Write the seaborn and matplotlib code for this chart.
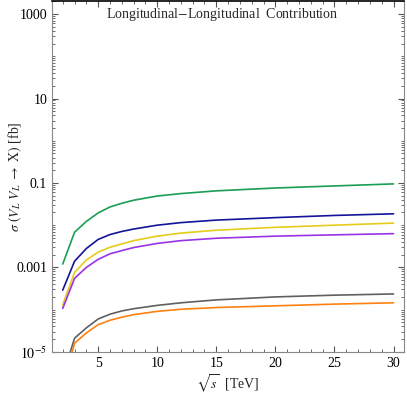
import numpy as np
import pandas as pd
import seaborn as sns
import matplotlib.pyplot as plt
from matplotlib.ticker import FixedLocator, FixedFormatter, MultipleLocator

# sqrt(s) in TeV
sqrt_s = [2, 3, 4, 5, 6, 7, 8, 10, 12, 15, 20, 25, 30]

# cross sections [fb]
sig_green = [1.2e-3, 6.8e-3, 0.0123, 0.0195, 0.027, 0.033, 0.039, 0.049, 0.056, 0.065, 0.076, 0.085, 0.095]
sig_blue = [2.9e-4, 1.4e-3, 2.8e-3, 4.6e-3, 6.0e-3, 7.1e-3, 8.1e-3, 0.010, 0.0115, 0.0132, 0.0151, 0.017, 0.0186]
sig_yellow = [1.3e-4, 7.6e-4, 1.5e-3, 2.3e-3, 3.0e-3, 3.6e-3, 4.3e-3, 5.5e-3, 6.5e-3, 7.6e-3, 8.9e-3, 0.010, 0.0112]
sig_purple = [1.07e-4, 5.5e-4, 1.0e-3, 1.55e-3, 2.1e-3, 2.5e-3, 2.95e-3, 3.7e-3, 4.3e-3, 4.9e-3, 5.5e-3, 5.9e-3, 6.3e-3]
sig_gray = [2.7e-6, 2.1e-5, 3.7e-5, 6.0e-5, 7.8e-5, 9.3e-5, 1.05e-4, 1.26e-4, 1.45e-4, 1.7e-4, 2.0e-4, 2.2e-4, 2.35e-4]
sig_orange = [1.4e-6, 1.6e-5, 2.8e-5, 4.4e-5, 5.6e-5, 6.6e-5, 7.6e-5, 9.1e-5, 1.02e-4, 1.12e-4, 1.23e-4, 1.35e-4, 1.45e-4]

series = {"green": sig_green, "blue": sig_blue, "yellow": sig_yellow,
          "purple": sig_purple, "gray": sig_gray, "orange": sig_orange}
colors = {"green": "#1a9e55", "blue": "#14149a", "yellow": "#e6cc1a",
          "purple": "#9933e6", "gray": "#606060", "orange": "#ff8010"}

df = pd.concat([pd.DataFrame({"sqrt_s": sqrt_s, "sigma": v, "proc": k}) for k, v in series.items()])

sns.set_style("ticks")
plt.rcParams['font.family'] = ['Liberation Serif', 'DejaVu Serif']
plt.rcParams['mathtext.fontset'] = 'stix'

fig = plt.figure(figsize=(4.07, 3.94), dpi=100)
ax = fig.add_axes([0.128, 0.107, 0.865, 0.8905])

sns.lineplot(data=df, x="sqrt_s", y="sigma", hue="proc", palette=colors,
             linewidth=1.2, legend=False, ax=ax)

ax.set_yscale("log")
ax.set_ylim(1e-5, 10**3.31)
ax.set_xlim(1.1, 30.9)

ax.yaxis.set_major_locator(FixedLocator([1e-5, 1e-3, 1e-1, 10, 1000]))
ax.yaxis.set_major_formatter(FixedFormatter([r"$10^{-5}$", "0.001", "0.1", "10", "1000"]))
minor = [m * 10.0**e for e in range(-5, 4) for m in range(2, 10)] + [10.0**e for e in (-4, -2, 0, 2)]
ax.yaxis.set_minor_locator(FixedLocator(minor))
ax.yaxis.set_minor_formatter(FixedFormatter([""] * len(minor)))
ax.xaxis.set_major_locator(MultipleLocator(5))
ax.xaxis.set_minor_locator(MultipleLocator(1))

ax.tick_params(which="both", direction="in", top=True, right=True, labelsize=10, colors="#555555", labelcolor="black")
ax.tick_params(which="major", length=4, width=0.8)
ax.tick_params(which="minor", length=2, width=0.6)
for side in ["left", "bottom", "right"]:
    ax.spines[side].set_color("#888888")
ax.spines["top"].set_color("black")
ax.spines["top"].set_linewidth(1.2)

ax.set_xlabel(r"$\sqrt{s}$  [TeV]", fontsize=10, labelpad=2)
ax.set_ylabel(r"$\sigma\ (V_L\ V_L\ \rightarrow\ \mathrm{X})$ [fb]", fontsize=10)
ax.yaxis.set_label_coords(-0.08, 0.5)
ax.text(0.484, 0.985, "Longitudinal$-$Longitudinal  Contribution", transform=ax.transAxes,
        ha="center", va="top", fontsize=10)

fig.savefig("out.png", dpi=100)
